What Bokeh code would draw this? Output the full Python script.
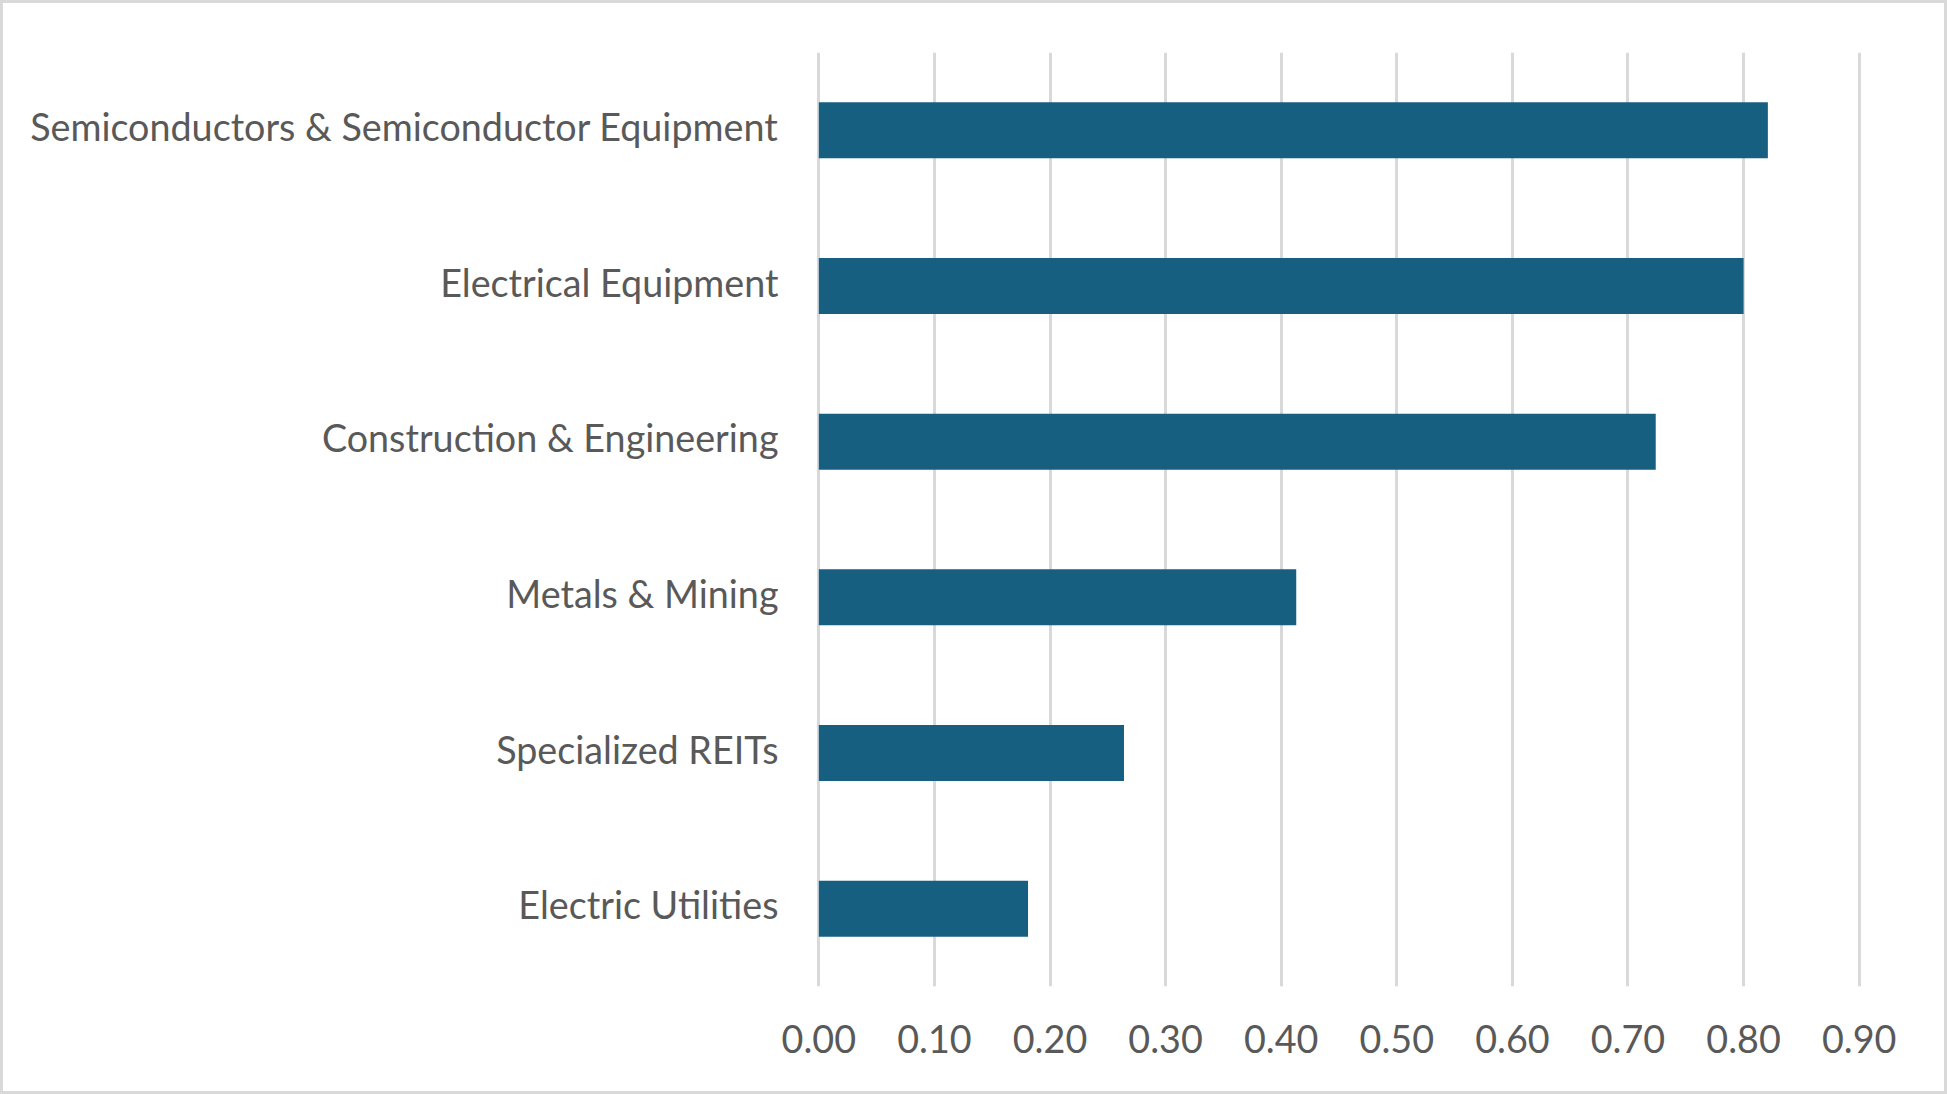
from bokeh.plotting import figure
from bokeh.models import Range1d, FixedTicker, NumeralTickFormatter, ColumnDataSource
from bokeh.embed import file_html
from bokeh.resources import INLINE

categories = ["Semiconductors & Semiconductor Equipment", "Electrical Equipment",
              "Construction & Engineering", "Metals & Mining",
              "Specialized REITs", "Electric Utilities"]
values = [0.821, 0.800, 0.724, 0.413, 0.264, 0.181]
ticks = [0.0, 0.1, 0.2, 0.3, 0.4, 0.5, 0.6, 0.7, 0.8, 0.9]

FONT = "Lato"
TEXT = "#595959"
GRID = "#d9d9d9"
BAR = "#175f80"
FS = "37.7px"

B = 3  # css border
W, H = 1947 - 2 * B, 1094 - 2 * B
PAD = 0.002
px_per_unit = (1858.5 - 818.5) / 0.9
left_px = 818.5 - PAD * px_per_unit
right_px = 1858.5 + PAD * px_per_unit

n = len(categories)
ypos = [n - 0.5 - i for i in range(n)]  # first category at the top

p = figure(width=W, height=H, output_backend="svg", toolbar_location=None,
           y_range=Range1d(0, n),
           x_range=Range1d(-PAD, 0.9 + PAD),
           min_border_left=round(left_px) - B, min_border_right=1947 - round(right_px) + B,
           min_border_top=52 - B, min_border_bottom=1094 - 986 + B)
p.styles = {"border": f"{B}px solid {GRID}", "box-sizing": "content-box"}
p.outline_line_color = None

src = ColumnDataSource(dict(y=ypos, val=values, cat=categories))
p.hbar(y="y", right="val", left=0, height=0.36, source=src,
       fill_color=BAR, line_color=None)

# category labels: ticks nudged slightly upward to match the reference's text placement
shift = 0.024
lab_ticks = [y + shift for y in ypos]
p.yaxis.ticker = FixedTicker(ticks=lab_ticks)
p.yaxis.major_label_overrides = {t: c for t, c in zip(lab_ticks, categories)}

p.xaxis.ticker = FixedTicker(ticks=ticks)
p.xaxis.formatter = NumeralTickFormatter(format="0.00")
for ax in [p.xaxis[0], p.yaxis[0]]:
    ax.axis_line_color = None
    ax.major_tick_line_color = None
    ax.minor_tick_line_color = None
    ax.major_tick_out = 0
    ax.major_tick_in = 0
    ax.major_label_text_font = FONT
    ax.major_label_text_font_size = FS
    ax.major_label_text_color = TEXT
p.yaxis.major_label_standoff = 38
p.xaxis.major_label_standoff = 38

p.xgrid.ticker = FixedTicker(ticks=ticks)
p.xgrid.grid_line_color = GRID
p.xgrid.grid_line_width = 3
p.ygrid.grid_line_color = None

open("out.html", "w").write(file_html(p, INLINE))
